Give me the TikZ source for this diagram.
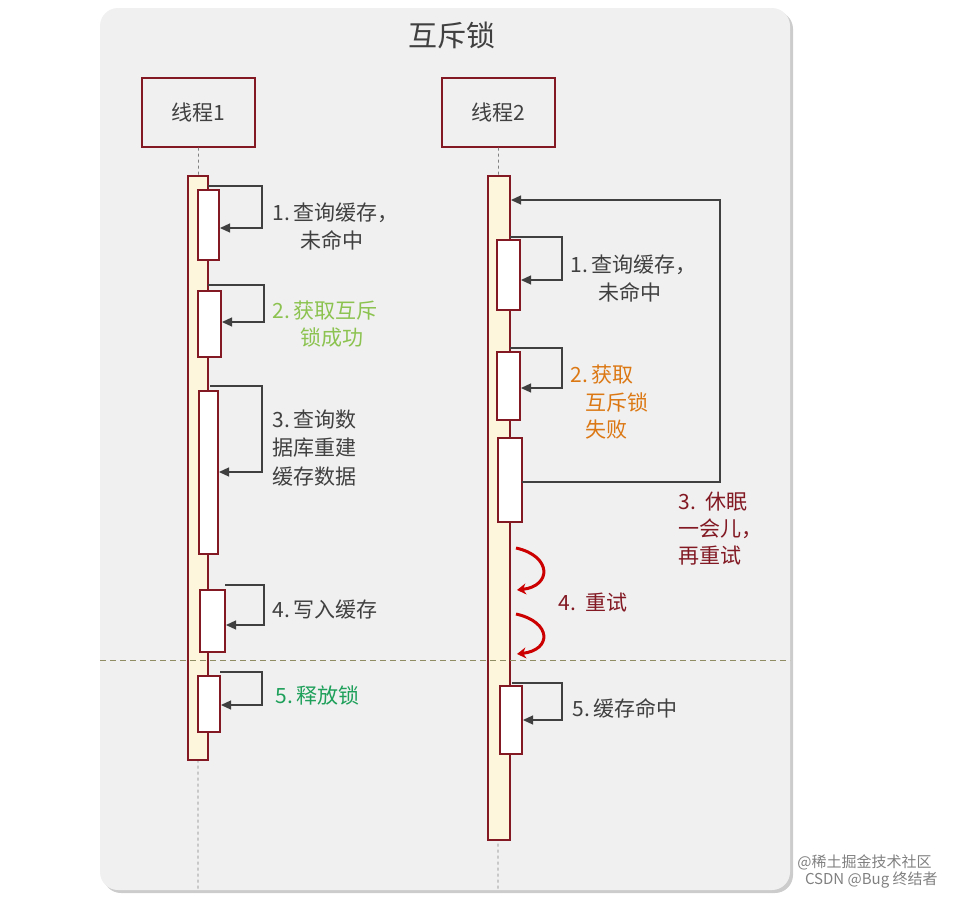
\documentclass[tikz,border=0pt]{standalone}
\usepackage{fontspec}
\setmainfont{Noto Sans CJK SC}
\usetikzlibrary{arrows.meta}
\definecolor{dred}{RGB}{130,25,35}
\definecolor{panel}{RGB}{240,240,240}
\definecolor{cream}{RGB}{253,245,220}
\definecolor{txt}{RGB}{64,64,64}
\definecolor{lgreen}{RGB}{140,195,80}
\definecolor{dgreen}{RGB}{30,160,90}
\definecolor{orng}{RGB}{220,120,20}
\tikzset{every picture/.style={line width=0.75pt}}
\tikzset{
  head/.style={draw=dred,line width=1.2pt,minimum width=113pt,minimum height=69pt,font=\fontsize{21}{24}\selectfont,text=txt},
  lane/.style={draw=dred,fill=cream,line width=1.2pt},
  act/.style={draw=dred,fill=white,line width=1.2pt},
  self/.style={draw=txt,line width=1.2pt,-{Triangle[length=10pt,width=9pt]}},
  lbl/.style={anchor=west,font=\fontsize{21}{24}\selectfont,text=txt,inner sep=0pt},
  retry/.style={draw=red!80!black,line width=3pt,-{Stealth[length=9pt,width=11pt]}}
}
\begin{document}
\begin{tikzpicture}[x=1pt,y=1pt,yscale=-1]
        \useasboundingbox (0,0) rectangle (954,897);
        %Panel
        \fill[gray!40,rounded corners=18pt] (103,11) rectangle (793,893);
        \fill[panel,rounded corners=18pt] (100,8) rectangle (790,890);
        \node (title) at (452,35) {\fontsize{29}{32}\selectfont\color{txt}互斥锁};

        %Headers and lifelines
        \node[head] (h1) at (198.5,112.5) {线程1};
        \node[head] (h2) at (498.5,112.5) {线程2};
        \draw[gray,dashed] (h1.south) -- (198,890);
        \draw[gray,dashed] (h2.south) -- (498,890);

        %Lane bars
        \draw[lane] (188,176) rectangle (208,760);
        \draw[lane] (488,176) rectangle (510,840);

        %Activations thread 1
        \draw[act] (198,190) rectangle (219,260);
        \draw[act] (198,291) rectangle (221,357);
        \draw[act] (199,391) rectangle (218,554);
        \draw[act] (200,590) rectangle (225,652);
        \draw[act] (198,676) rectangle (220,732);
        %Self calls thread 1
        \draw[self] (208,186) -- (262,186) -- (262,228) -- (220,228);
        \draw[self] (208,285) -- (264,285) -- (264,322) -- (222,322);
        \draw[self] (210,386) -- (262,386) -- (262,472) -- (219,472);
        \draw[self] (225,585) -- (264,585) -- (264,625) -- (226,625);
        \draw[self] (220,672) -- (262,672) -- (262,705) -- (221,705);

        %Activations thread 2
        \draw[act] (497,240) rectangle (520,310);
        \draw[act] (497,352) rectangle (520,420);
        \draw[act] (498,438) rectangle (522,522);
        \draw[act] (500,686) rectangle (522,754);
        %Self calls thread 2
        \draw[self] (510,237) -- (562,237) -- (562,280) -- (521,280);
        \draw[self] (510,348) -- (562,348) -- (562,388) -- (521,388);
        \draw[self] (522,482) -- (720,482) -- (720,200) -- (511,200);
        \draw[self] (512,683) -- (562,683) -- (562,720) -- (523,720);

        %Retry arrows
        \draw[retry] (516,548) .. controls (552,556) and (552,586) .. (517,590);
        \draw[retry] (516,614) .. controls (552,622) and (552,650) .. (517,654);

        %Separator
        \draw[gray!70!olive,dash pattern=on 6pt off 4pt] (100,660) -- (790,660);

        %Labels thread 1
        \node[lbl] (l1a) at (272,213) {1.\,查询缓存，};
        \node[lbl] (l1b) at (300,240) {未命中};
        \node[lbl,text=lgreen] (l2a) at (272,311) {2.\,获取互斥};
        \node[lbl,text=lgreen] (l2b) at (300,338) {锁成功};
        \node[lbl] (l3a) at (272,420) {3.\,查询数};
        \node[lbl] (l3b) at (272,448) {据库重建};
        \node[lbl] (l3c) at (272,477) {缓存数据};
        \node[lbl] (l4) at (272,610) {4.\,写入缓存};
        \node[lbl,text=dgreen] (l5) at (275,695) {5.\,释放锁};

        %Labels thread 2
        \node[lbl] (r1a) at (570,265) {1.\,查询缓存，};
        \node[lbl] (r1b) at (598,292) {未命中};
        \node[lbl,text=orng] (r2a) at (570,375) {2.\,获取};
        \node[lbl,text=orng] (r2b) at (585,402) {互斥锁};
        \node[lbl,text=orng] (r2c) at (585,430) {失败};
        \node[lbl,text=dred] (r3a) at (678,502) {3.\ \ 休眠};
        \node[lbl,text=dred] (r3b) at (678,529) {一会儿，};
        \node[lbl,text=dred] (r3c) at (678,556) {再重试};
        \node[lbl,text=dred] (r4) at (558,603) {4.\ \ 重试};
        \node[lbl] (r5) at (572,708) {5.\,缓存命中};

        %Watermark
        \node[anchor=east,text=gray,font=\fontsize{15}{17}\selectfont,inner sep=0pt] (wm1) at (932,862) {@稀土掘金技术社区};
        \node[anchor=east,text=gray,font=\fontsize{15}{17}\selectfont,inner sep=0pt] (wm2) at (938,880) {CSDN @Bug 终结者};
\end{tikzpicture}
\end{document}
